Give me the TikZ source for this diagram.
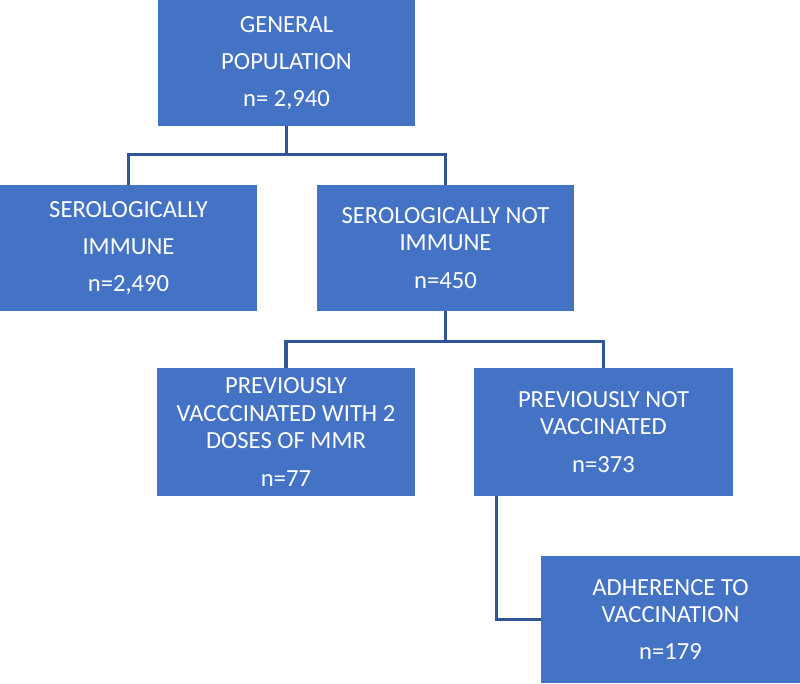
\documentclass[tikz,border=0pt]{standalone}
\usepackage{fontspec}
\setmainfont{Carlito}
\usepackage{tikz}
\usetikzlibrary{positioning}

\definecolor{boxblue}{HTML}{4472C4}
\definecolor{lineblue}{HTML}{2F5597}

\begin{document}
\begin{tikzpicture}[
    box/.style={fill=boxblue, text=white, minimum width=6.425cm, minimum height=3.15cm,
        align=center, inner sep=0pt, font=\fontsize{17.5}{19.5}\selectfont},
    link/.style={draw=lineblue, line width=2.4pt}]
    \useasboundingbox (0,0) rectangle (20,17.075);

    \node[box] (gen) at (7.1625,15.5) {GENERAL\\[7pt] POPULATION\\[7pt] n= 2,940};
    \node[box] (imm) at (3.2125,10.875) {SEROLOGICALLY\\[7pt] IMMUNE\\[7pt] n=2,490};
    \node[box] (notimm) at (11.1375,10.875) {SEROLOGICALLY NOT\\ IMMUNE\\[7pt] n=450};
    \node[box, minimum width=6.45cm, minimum height=3.2cm] (vacc) at (7.15,6.275)
        {PREVIOUSLY\\ VACCCINATED WITH 2\\ DOSES OF MMR\\[7pt] n=77};
    \node[box, minimum width=6.475cm, minimum height=3.2cm] (notvacc) at (15.0875,6.275)
        {PREVIOUSLY NOT\\ VACCINATED\\[7pt] n=373};
    \node[box, minimum width=6.475cm, minimum height=3.175cm] (adh) at (16.7625,1.5875)
        {ADHERENCE TO\\ VACCINATION\\[7pt] n=179};

    % tree links
    \draw[link] (gen.south) -- ++(0,-0.7) coordinate (j1) -| (imm.north);
    \draw[link] (j1) -| (notimm.north);
    \draw[link] (notimm.south) -- ++(0,-0.75) coordinate (j2) -| (vacc.north);
    \draw[link] (j2) -| (notvacc.north);
    \draw[link] ([xshift=0.575cm]notvacc.south west) |- (adh.west);
\end{tikzpicture}
\end{document}
